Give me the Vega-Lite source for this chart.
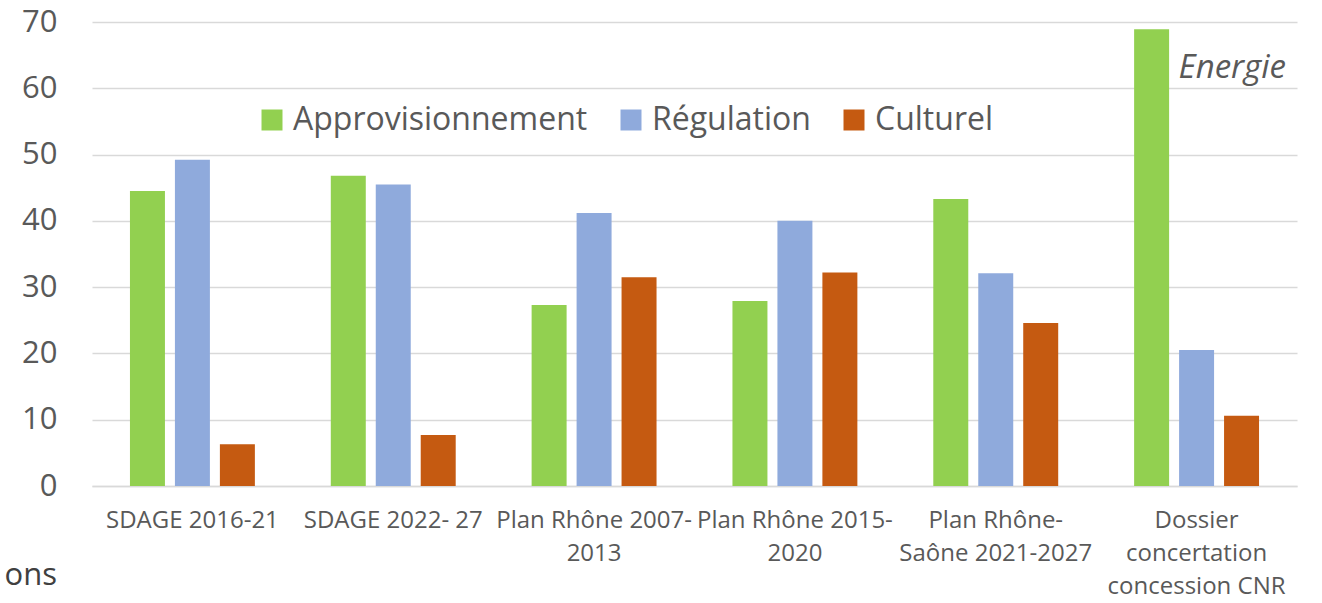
{
  "$schema": "https://vega.github.io/schema/vega-lite/v6.json",
  "width": 1205,
  "height": 464,
  "autosize": {"type": "none"},
  "padding": {"left": 92, "top": 22, "right": 25, "bottom": 117},
  "background": "white",
  "config": {
    "font": "Open Sans",
    "view": {"stroke": null}
  },
  "data": {
    "values": [
      {"cat": "SDAGE 2016-21", "serie": "Approvisionnement", "value": 44.5},
      {"cat": "SDAGE 2016-21", "serie": "Régulation", "value": 49.2},
      {"cat": "SDAGE 2016-21", "serie": "Culturel", "value": 6.3},
      {"cat": "SDAGE 2022- 27", "serie": "Approvisionnement", "value": 46.8},
      {"cat": "SDAGE 2022- 27", "serie": "Régulation", "value": 45.5},
      {"cat": "SDAGE 2022- 27", "serie": "Culturel", "value": 7.7},
      {"cat": "Plan Rhône 2007-\n2013", "serie": "Approvisionnement", "value": 27.3},
      {"cat": "Plan Rhône 2007-\n2013", "serie": "Régulation", "value": 41.2},
      {"cat": "Plan Rhône 2007-\n2013", "serie": "Culturel", "value": 31.5},
      {"cat": "Plan Rhône 2015-\n2020", "serie": "Approvisionnement", "value": 27.9},
      {"cat": "Plan Rhône 2015-\n2020", "serie": "Régulation", "value": 40.0},
      {"cat": "Plan Rhône 2015-\n2020", "serie": "Culturel", "value": 32.2},
      {"cat": "Plan Rhône-\nSaône 2021-2027", "serie": "Approvisionnement", "value": 43.3},
      {"cat": "Plan Rhône-\nSaône 2021-2027", "serie": "Régulation", "value": 32.1},
      {"cat": "Plan Rhône-\nSaône 2021-2027", "serie": "Culturel", "value": 24.6},
      {"cat": "Dossier\nconcertation\nconcession CNR", "serie": "Approvisionnement", "value": 68.9},
      {"cat": "Dossier\nconcertation\nconcession CNR", "serie": "Régulation", "value": 20.5},
      {"cat": "Dossier\nconcertation\nconcession CNR", "serie": "Culturel", "value": 10.6}
    ]
  },
  "encoding": {
    "x": {
      "field": "cat",
      "type": "nominal",
      "sort": null,
      "scale": {"paddingInner": 0.378, "paddingOuter": 0.189},
      "axis": {
        "title": null,
        "labelAngle": 0,
        "labelExpr": "split(datum.value, '\\n')",
        "labelFontSize": 24,
        "labelColor": "#595959",
        "labelLineHeight": 33,
        "labelPadding": 22,
        "labelBaseline": "top",
        "ticks": false,
        "domainColor": "#d9d9d9",
        "domainWidth": 1.5,
        "grid": false,
        "labelLimit": 400,
        "labelOverlap": false
      }
    }
  },
  "layer": [
    {
      "mark": {"type": "bar"},
      "encoding": {
        "xOffset": {
          "field": "serie",
          "type": "nominal",
          "sort": ["Approvisionnement", "Régulation", "Culturel"],
          "scale": {"paddingInner": 0.222, "paddingOuter": 0}
        },
        "y": {
          "field": "value",
          "type": "quantitative",
          "scale": {"domain": [0, 70], "nice": false},
          "axis": {
            "title": "ons",
            "titleAngle": 0,
            "titleX": -88,
            "titleY": 553,
            "titleAlign": "left",
            "titleBaseline": "middle",
            "titleFontSize": 31,
            "titleFontWeight": "normal",
            "titleColor": "#404040",
            "values": [0, 10, 20, 30, 40, 50, 60, 70],
            "labelFontSize": 31,
            "labelColor": "#595959",
            "labelPadding": 35,
            "ticks": false,
            "domain": false,
            "gridColor": "#d9d9d9",
            "gridWidth": 1.5
          }
        },
        "color": {
          "field": "serie",
          "type": "nominal",
          "sort": ["Approvisionnement", "Régulation", "Culturel"],
          "scale": {
            "domain": ["Approvisionnement", "Régulation", "Culturel"],
            "range": ["#92d050", "#8faadc", "#c55a11"]
          },
          "legend": {
            "title": null,
            "orient": "none",
            "direction": "horizontal",
            "legendX": 164,
            "legendY": 82,
            "symbolType": "square",
            "symbolSize": 441,
            "symbolStrokeWidth": 0,
            "symbolOpacity": 1,
            "labelFontSize": 32,
            "labelColor": "#595959",
            "labelOffset": 5,
            "columnPadding": 27,
            "labelLimit": 500
          }
        }
      }
    },
    {
      "data": {"values": [{"cat": "Dossier\nconcertation\nconcession CNR", "y": 63, "label": "Energie"}]},
      "mark": {"type": "text", "align": "left", "baseline": "middle", "dx": -18, "fontSize": 33, "fontStyle": "italic", "color": "#595959"},
      "encoding": {
        "y": {"field": "y", "type": "quantitative"},
        "text": {"field": "label"}
      }
    }
  ]
}
